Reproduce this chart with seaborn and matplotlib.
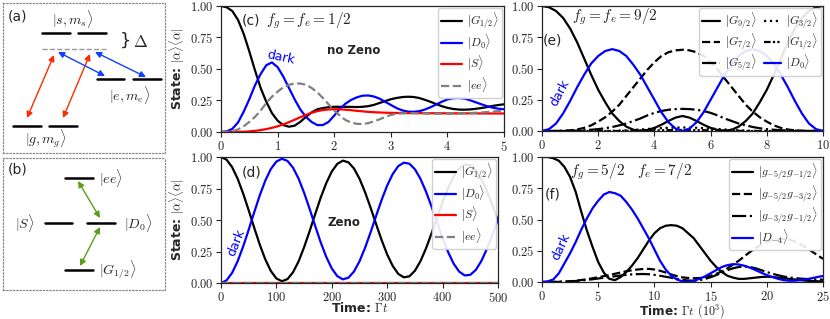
import matplotlib
matplotlib.use("Agg")
import matplotlib.pyplot as plt
import matplotlib.ticker as mticker
import numpy as np
import seaborn as sns

# ---------------- data ----------------
# (c) f_g = f_e = 1/2, no Zeno, time step 0.1
t_c = np.linspace(0, 5, 51)
g_c = [1.00, 0.99, 0.96, 0.89, 0.78, 0.64, 0.49, 0.35, 0.24, 0.15,
       0.09, 0.055, 0.042, 0.05, 0.08, 0.12, 0.155, 0.18, 0.19, 0.197,
       0.20, 0.20, 0.20, 0.199, 0.198, 0.20, 0.205, 0.215, 0.23, 0.245,
       0.26, 0.27, 0.277, 0.28, 0.278, 0.27, 0.256, 0.24, 0.222, 0.205,
       0.192, 0.183, 0.178, 0.177, 0.179, 0.184, 0.19, 0.198, 0.207, 0.214,
       0.22]
d_c = [0.0, 0.005, 0.025, 0.075, 0.16, 0.26, 0.37, 0.46, 0.53, 0.552,
       0.515, 0.44, 0.35, 0.26, 0.18, 0.12, 0.08, 0.055, 0.055, 0.08,
       0.13, 0.185, 0.225, 0.255, 0.275, 0.288, 0.29, 0.282, 0.265, 0.24,
       0.215, 0.19, 0.172, 0.162, 0.16, 0.165, 0.178, 0.196, 0.218, 0.24,
       0.258, 0.268, 0.27, 0.265, 0.252, 0.236, 0.22, 0.205, 0.193, 0.185,
       0.18]
s_c = [0.0, 0.0, 0.0, 0.001, 0.002, 0.005, 0.009, 0.015, 0.023, 0.033,
       0.045, 0.06, 0.078, 0.097, 0.117, 0.136, 0.152, 0.165, 0.174, 0.179,
       0.181, 0.18, 0.177, 0.173, 0.168, 0.164, 0.16, 0.157, 0.155, 0.153,
       0.152, 0.151, 0.151, 0.150, 0.150, 0.150, 0.149, 0.149, 0.149, 0.149,
       0.148, 0.148, 0.148, 0.148, 0.148, 0.148, 0.147, 0.147, 0.147, 0.147,
       0.147]
ee_c = [0.0, 0.0, 0.005, 0.02, 0.045, 0.08, 0.12, 0.17, 0.23, 0.28,
        0.32, 0.355, 0.375, 0.385, 0.385, 0.375, 0.35, 0.315, 0.27, 0.22,
        0.17, 0.13, 0.095, 0.075, 0.065, 0.063, 0.07, 0.085, 0.10, 0.12,
        0.135, 0.145, 0.148, 0.15, 0.149, 0.148, 0.147, 0.145, 0.145, 0.145,
        0.145, 0.146, 0.147, 0.148, 0.15, 0.153, 0.155, 0.158, 0.162, 0.166,
        0.17]

# (d) f_g = f_e = 1/2, Zeno, time step 10
t_d = np.linspace(0, 500, 51)
g_d = [1.000, 0.979, 0.920, 0.828, 0.710, 0.577, 0.438, 0.304, 0.187, 0.095,
       0.036, 0.014, 0.031, 0.085, 0.171, 0.284, 0.412, 0.547, 0.678, 0.793,
       0.885, 0.946, 0.971, 0.958, 0.909, 0.828, 0.721, 0.598, 0.467, 0.340,
       0.226, 0.135, 0.072, 0.045, 0.053, 0.097, 0.173, 0.274, 0.393, 0.519,
       0.643, 0.755, 0.847, 0.910, 0.940, 0.935, 0.896, 0.825, 0.729, 0.616,
       0.494]
d_d = [0.000, 0.021, 0.080, 0.172, 0.290, 0.423, 0.562, 0.696, 0.813, 0.905,
       0.964, 0.986, 0.969, 0.915, 0.829, 0.716, 0.588, 0.453, 0.322, 0.207,
       0.115, 0.054, 0.029, 0.042, 0.091, 0.172, 0.279, 0.402, 0.533, 0.660,
       0.774, 0.865, 0.928, 0.955, 0.947, 0.903, 0.827, 0.726, 0.607, 0.481,
       0.357, 0.245, 0.153, 0.090, 0.060, 0.065, 0.104, 0.175, 0.271, 0.384,
       0.506]
t_d_flat = [0, 100, 200, 300, 400, 500]
s_d = [0.0, 0.0, 0.0, 0.0, 0.0, 0.0]
ee_d = [0.0, 0.0, 0.0, 0.0, 0.0, 0.0]

# (e) f_g = f_e = 9/2, time step 0.25
t_e = np.linspace(0, 10, 41)
g92_e = [1.0, 0.99, 0.96, 0.905, 0.82, 0.71, 0.58, 0.45, 0.33, 0.23,
         0.14, 0.08, 0.035, 0.01, 0.002, 0.008, 0.025, 0.05, 0.08, 0.107,
         0.12, 0.107, 0.08, 0.05, 0.025, 0.008, 0.002, 0.01, 0.035, 0.08,
         0.14, 0.23, 0.33, 0.45, 0.58, 0.71, 0.82, 0.905, 0.96, 0.99, 1.0]
g72_e = [0.0, 0.0, 0.0, 0.002, 0.005, 0.012, 0.025, 0.045, 0.075, 0.11,
         0.155, 0.21, 0.28, 0.35, 0.42, 0.49, 0.55, 0.60, 0.63, 0.645,
         0.65, 0.645, 0.63, 0.60, 0.55, 0.49, 0.42, 0.35, 0.28, 0.21,
         0.155, 0.11, 0.075, 0.045, 0.025, 0.012, 0.005, 0.002, 0.0, 0.0, 0.0]
g52_e = [0.0, 0.0, 0.0, 0.0, 0.002, 0.003, 0.006, 0.01, 0.015, 0.022,
         0.032, 0.045, 0.06, 0.08, 0.10, 0.125, 0.145, 0.16, 0.17, 0.175,
         0.177, 0.175, 0.17, 0.16, 0.145, 0.125, 0.10, 0.08, 0.06, 0.045,
         0.032, 0.022, 0.015, 0.01, 0.006, 0.003, 0.002, 0.0, 0.0, 0.0, 0.0]
g32_e = [0.0, 0.0, 0.0, 0.0, 0.0, 0.0, 0.0, 0.0, 0.0, 0.0,
         0.001, 0.003, 0.006, 0.009, 0.012, 0.016, 0.02, 0.023, 0.026, 0.027,
         0.028, 0.027, 0.026, 0.023, 0.02, 0.016, 0.012, 0.009, 0.006, 0.003,
         0.001, 0.0, 0.0, 0.0, 0.0, 0.0, 0.0, 0.0, 0.0, 0.0, 0.0]
g12_e = [0.0, 0.0, 0.0, 0.0, 0.0, 0.0, 0.0, 0.0, 0.0, 0.0,
         0.0, 0.0, 0.001, 0.002, 0.003, 0.004, 0.005, 0.006, 0.007, 0.007,
         0.008, 0.007, 0.007, 0.006, 0.005, 0.004, 0.003, 0.002, 0.001, 0.0,
         0.0, 0.0, 0.0, 0.0, 0.0, 0.0, 0.0, 0.0, 0.0, 0.0, 0.0]
d0_e = [0.0, 0.015, 0.06, 0.14, 0.24, 0.35, 0.45, 0.54, 0.60, 0.64,
        0.655, 0.64, 0.60, 0.53, 0.45, 0.35, 0.25, 0.15, 0.07, 0.02,
        0.0, 0.02, 0.07, 0.15, 0.25, 0.35, 0.45, 0.53, 0.60, 0.64,
        0.655, 0.64, 0.60, 0.54, 0.45, 0.35, 0.24, 0.14, 0.06, 0.015, 0.0]

# (f) f_g = 5/2, f_e = 7/2, time step 0.5 (units of 10^3)
t_f = np.linspace(0, 25, 51)
g5g1_f = [1.0, 1.0, 0.99, 0.97, 0.92, 0.84, 0.72, 0.56, 0.41, 0.28,
          0.16, 0.075, 0.025, 0.015, 0.04, 0.08, 0.13, 0.19, 0.26, 0.33,
          0.39, 0.43, 0.45, 0.455, 0.45, 0.43, 0.39, 0.35, 0.29, 0.23,
          0.17, 0.12, 0.08, 0.05, 0.035, 0.025, 0.025, 0.03, 0.035, 0.04,
          0.042, 0.04, 0.035, 0.03, 0.025, 0.02, 0.015, 0.01, 0.008, 0.006,
          0.005]
g5g3_f = [0.0, 0.0, 0.0, 0.001, 0.003, 0.006, 0.01, 0.016, 0.022, 0.03,
          0.038, 0.047, 0.056, 0.066, 0.076, 0.086, 0.094, 0.1, 0.104, 0.105,
          0.1, 0.09, 0.076, 0.06, 0.047, 0.037, 0.032, 0.03, 0.032, 0.038,
          0.05, 0.065, 0.085, 0.11, 0.14, 0.17, 0.205, 0.24, 0.27, 0.30,
          0.32, 0.335, 0.343, 0.345, 0.34, 0.325, 0.30, 0.275, 0.245, 0.215,
          0.185]
g3g1_f = [0.0, 0.0, 0.001, 0.002, 0.003, 0.005, 0.008, 0.012, 0.017, 0.022,
          0.028, 0.034, 0.04, 0.046, 0.052, 0.057, 0.061, 0.063, 0.064, 0.062,
          0.057, 0.05, 0.042, 0.034, 0.025, 0.017, 0.012, 0.01, 0.014, 0.024,
          0.038, 0.055, 0.075, 0.095, 0.11, 0.12, 0.123, 0.12, 0.11, 0.095,
          0.08, 0.066, 0.054, 0.044, 0.036, 0.031, 0.027, 0.024, 0.022, 0.02,
          0.019]
dm4_f = [0.0, 0.005, 0.02, 0.07, 0.15, 0.23, 0.32, 0.42, 0.51, 0.59,
         0.65, 0.70, 0.72, 0.71, 0.69, 0.64, 0.58, 0.51, 0.43, 0.35,
         0.26, 0.17, 0.10, 0.05, 0.02, 0.005, 0.0, 0.01, 0.025, 0.045,
         0.07, 0.095, 0.12, 0.135, 0.143, 0.14, 0.13, 0.115, 0.095, 0.075,
         0.055, 0.04, 0.025, 0.015, 0.01, 0.01, 0.015, 0.022, 0.03, 0.04,
         0.048]

y_ticks = [0.0, 0.25, 0.5, 0.75, 1.0]

BLUE = "#0000ff"
RED = "#ff0000"
GREY = "#808080"
LW = 1.6

sns.set_style("ticks")
plt.rcParams["font.family"] = ["DejaVu Sans"]
plt.rcParams["mathtext.fontset"] = "cm"

W, H = 830, 319
fig = plt.figure(figsize=(W / 100, H / 100), dpi=100)


def px_axes(x0, y0, x1, y1):
    return fig.add_axes([x0 / W, 1 - y1 / H, (x1 - x0) / W, (y1 - y0) / H])


def style_axes(ax, xlim, xticks):
    ax.set_xlim(*xlim)
    ax.set_ylim(0, 1)
    ax.set_xticks(xticks)
    ax.set_yticks(y_ticks)
    ax.xaxis.set_major_formatter(mticker.FuncFormatter(lambda v, p: f"${v:g}$"))
    ax.yaxis.set_major_formatter(mticker.FuncFormatter(lambda v, p: f"${v:.2f}$"))
    ax.tick_params(direction="out", length=3.5, width=0.8, labelsize=9, pad=2)
    for s in ax.spines.values():
        s.set_linewidth(0.9)
        s.set_visible(True)
    ax.set_xlabel("")
    ax.set_ylabel("")


def curve(ax, x, y, color, ls, label):
    sns.lineplot(x=x, y=y, ax=ax, color=color, linestyle=ls, lw=LW, label=label)


leg_kw = dict(fontsize=8.5, handlelength=1.8, handletextpad=0.4, labelspacing=0.15,
              borderpad=0.25, borderaxespad=0.15, framealpha=0.9)

# ---------------- (c) ----------------
ax_c = px_axes(221, 6, 504, 132)
curve(ax_c, t_c, g_c, "black", "-", r"$|G_{1/2}\rangle$")
curve(ax_c, t_c, d_c, BLUE, "-", r"$|D_0\rangle$")
curve(ax_c, t_c, s_c, RED, "-", r"$|S\rangle$")
curve(ax_c, t_c, ee_c, GREY, "--", r"$|ee\rangle$")
style_axes(ax_c, (0, 5), [0, 1, 2, 3, 4, 5])
ax_c.legend(loc="upper right", **leg_kw)
ax_c.set_ylabel(r"State: $|\alpha\rangle\langle\alpha|$", fontsize=9, fontweight="bold", labelpad=2)
ax_c.text(0.074, 0.885, "(c)", transform=ax_c.transAxes, fontsize=10, va="center")
ax_c.text(0.16, 0.885, r"$f_g = f_e = 1/2$", transform=ax_c.transAxes, fontsize=11, va="center")
ax_c.text(0.375, 0.65, "no Zeno", transform=ax_c.transAxes, fontsize=8.5, fontweight="bold", va="center")
ax_c.text(0.21, 0.59, "dark", transform=ax_c.transAxes, fontsize=9, color=BLUE,
          rotation=-12, ha="center", va="center")

# ---------------- (d) ----------------
ax_d = px_axes(221, 157, 498, 283)
curve(ax_d, t_d, g_d, "black", "-", r"$|G_{1/2}\rangle$")
curve(ax_d, t_d, d_d, BLUE, "-", r"$|D_0\rangle$")
curve(ax_d, t_d_flat, s_d, RED, "-", r"$|S\rangle$")
curve(ax_d, t_d_flat, ee_d, GREY, "--", r"$|ee\rangle$")
style_axes(ax_d, (0, 500), [0, 100, 200, 300, 400, 500])
ax_d.legend(loc="upper right", **leg_kw)
ax_d.set_ylabel(r"State: $|\alpha\rangle\langle\alpha|$", fontsize=9, fontweight="bold", labelpad=2)
ax_d.set_xlabel(r"Time: $\Gamma t$", fontsize=9, fontweight="bold")
ax_d.xaxis.set_label_coords(0.5, -0.146)
ax_d.text(0.076, 0.88, "(d)", transform=ax_d.transAxes, fontsize=10, va="center")
ax_d.text(0.383, 0.484, "Zeno", transform=ax_d.transAxes, fontsize=8.5, fontweight="bold", va="center")
ax_d.text(0.054, 0.317, "dark", transform=ax_d.transAxes, fontsize=9, color=BLUE,
          rotation=68, ha="center", va="center")

# ---------------- (e) ----------------
ax_e = px_axes(542, 6, 823, 131)
curve(ax_e, t_e, g92_e, "black", "-", r"$|G_{9/2}\rangle$")
curve(ax_e, t_e, g72_e, "black", "--", r"$|G_{7/2}\rangle$")
curve(ax_e, t_e, g52_e, "black", "-.", r"$|G_{5/2}\rangle$")
curve(ax_e, t_e, g32_e, "black", ":", r"$|G_{3/2}\rangle$")
curve(ax_e, t_e, g12_e, "black", (0, (3, 1, 1, 1, 1, 1)), r"$|G_{1/2}\rangle$")
curve(ax_e, t_e, d0_e, BLUE, "-", r"$|D_0\rangle$")
style_axes(ax_e, (0, 10), [0, 2, 4, 6, 8, 10])
ax_e.legend(loc="upper right", ncol=2, columnspacing=0.6,
            **{**leg_kw, "handlelength": 1.5, "labelspacing": 0.05})
ax_e.text(0.107, 0.912, r"$f_g = f_e = 9/2$", transform=ax_e.transAxes, fontsize=11, va="center")
ax_e.text(0.004, 0.728, "(e)", transform=ax_e.transAxes, fontsize=10, va="center")
ax_e.text(0.064, 0.304, "dark", transform=ax_e.transAxes, fontsize=9, color=BLUE,
          rotation=62, ha="center", va="center")

# ---------------- (f) ----------------
ax_f = px_axes(542, 157, 823, 282)
curve(ax_f, t_f, g5g1_f, "black", "-", r"$|g_{-5/2}g_{-1/2}\rangle$")
curve(ax_f, t_f, g5g3_f, "black", "--", r"$|g_{-5/2}g_{-3/2}\rangle$")
curve(ax_f, t_f, g3g1_f, "black", "-.", r"$|g_{-3/2}g_{-1/2}\rangle$")
curve(ax_f, t_f, dm4_f, BLUE, "-", r"$|D_{-4}\rangle$")
style_axes(ax_f, (0, 25), [0, 5, 10, 15, 20, 25])
ax_f.legend(loc="upper right", **leg_kw)
ax_f.set_xlabel(r"Time: $\Gamma t$ $(10^3)$", fontsize=8.7, fontweight="bold")
ax_f.xaxis.set_label_coords(0.5, -0.164)
ax_f.text(0.10, 0.88, r"$f_g = 5/2 \quad f_e = 7/2$", transform=ax_f.transAxes, fontsize=11, va="center")
ax_f.text(0.011, 0.696, "(f)", transform=ax_f.transAxes, fontsize=10, va="center")
ax_f.text(0.068, 0.28, "dark", transform=ax_f.transAxes, fontsize=9, color=BLUE,
          rotation=65, ha="center", va="center")

# ---------------- (a) level scheme ----------------
ax_a = px_axes(3, 3, 165, 153)
ax_a.set_xlim(3, 165)
ax_a.set_ylim(153, 3)
levels_a = [(42, 70, 33), (78, 106, 33), (97, 124, 79), (133, 161, 79),
            (13, 41, 126), (49, 77, 126)]
red_arrows_a = [((27, 118), (54, 55)), ((63, 118), (90, 54))]
blue_arrows_a = [((58, 52), (105, 76)), ((95, 52), (146, 77))]

# ---------------- (b) level scheme ----------------
ax_b = px_axes(3, 158, 165, 290)
ax_b.set_xlim(3, 165)
ax_b.set_ylim(290, 158)
levels_b = [(65, 93, 178), (45, 72, 223), (87, 115, 223), (65, 93, 270)]
green_arrows_b = [((78, 181), (100, 218)), ((100, 227), (80, 266))]

for ax in (ax_a, ax_b):
    ax.set_xticks([])
    ax.set_yticks([])
    for s in ax.spines.values():
        s.set_visible(True)
        s.set_linestyle(":")
        s.set_color("0.55")
        s.set_linewidth(0.9)

for x0, x1, y in levels_a:
    ax_a.plot([x0, x1], [y, y], color="black", lw=1.8)
ax_a.plot([42, 106], [49, 49], color="0.6", lw=1.0, ls="--")
for p0, p1 in red_arrows_a:
    ax_a.annotate("", xy=p1, xytext=p0,
                  arrowprops=dict(arrowstyle="<|-|>", color="#ff2a00", lw=1.0,
                                  mutation_scale=9, shrinkA=0, shrinkB=0))
for p0, p1 in blue_arrows_a:
    ax_a.annotate("", xy=p1, xytext=p0,
                  arrowprops=dict(arrowstyle="<|-|>", color="#1040ff", lw=1.0,
                                  mutation_scale=9, shrinkA=0, shrinkB=0))
ax_a.text(73, 19, r"$|s, m_s\rangle$", fontsize=10, ha="center", va="center")
ax_a.text(130, 95, r"$|e, m_e\rangle$", fontsize=10, ha="center", va="center")
ax_a.text(46, 139, r"$|g, m_g\rangle$", fontsize=10, ha="center", va="center")
ax_a.text(125, 41, "}", fontsize=13, ha="center", va="center")
ax_a.text(141, 42, r"$\Delta$", fontsize=12, ha="center", va="center")
ax_a.text(8, 16, "(a)", fontsize=10, ha="left", va="center")

for x0, x1, y in levels_b:
    ax_b.plot([x0, x1], [y, y], color="black", lw=1.8)
for p0, p1 in green_arrows_b:
    ax_b.annotate("", xy=p1, xytext=p0,
                  arrowprops=dict(arrowstyle="<|-|>", color="#5a9e1a", lw=1.0,
                                  mutation_scale=9, shrinkA=0, shrinkB=0))
ax_b.text(99, 178, r"$|ee\rangle$", fontsize=10, ha="left", va="center")
ax_b.text(25, 223, r"$|S\rangle$", fontsize=10, ha="center", va="center")
ax_b.text(124, 223, r"$|D_0\rangle$", fontsize=10, ha="left", va="center")
ax_b.text(99, 270, r"$|G_{1/2}\rangle$", fontsize=10, ha="left", va="center")
ax_b.text(8, 170, "(b)", fontsize=10, ha="left", va="center")

fig.savefig("out.png", dpi=100)
